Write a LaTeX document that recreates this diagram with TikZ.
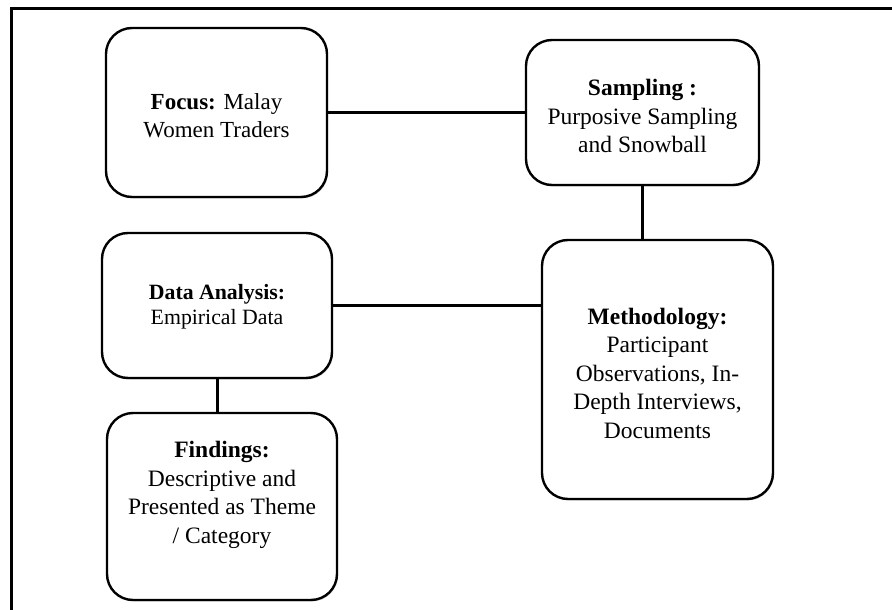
\documentclass[tikz,border=0pt]{standalone}
\usepackage{fontspec}
\setmainfont{Liberation Serif}
\usetikzlibrary{shadows}
\begin{document}
\begin{tikzpicture}[x=1pt,y=-1pt,
  box/.style={draw=black, line width=2.4pt, fill=white, rounded corners=26pt,
    drop shadow={shadow xshift=1pt, shadow yshift=-1.5pt, opacity=0.25, fill=black!60},
    inner sep=0pt},
  txt/.style={align=center, inner sep=0pt},
  link/.style={line width=3pt, black},
  frame/.style={line width=3pt, black}]
\useasboundingbox (0,0) rectangle (892,610);
\draw[frame] (892,9) -- (11,9) -- (11,610);

\node[box, minimum width=221pt, minimum height=169pt] (focus) at (216.5,112.5) {};
\node[box, minimum width=233pt, minimum height=145pt] (sampling) at (642.5,112.5) {};
\node[box, minimum width=230pt, minimum height=145pt] (data) at (217,305.5) {};
\node[box, minimum width=231pt, minimum height=259pt] (method) at (657.5,369.5) {};
\node[box, minimum width=230pt, minimum height=187pt] (findings) at (222,506.5) {};

\node[txt, font=\fontsize{23}{28}\selectfont] (focust) at (216.5,116)
  {\textbf{Focus:} Malay\\Women Traders};
\node[txt, font=\fontsize{23.5}{28.5}\selectfont] (samplingt) at (642.5,116)
  {\textbf{Sampling :}\\Purposive Sampling\\and Snowball};
\node[txt, font=\fontsize{21.8}{25.5}\selectfont] (datat) at (217,307)
  {\textbf{Data Analysis:}\\Empirical Data};
\node[txt, font=\fontsize{23.5}{28.5}\selectfont] (methodt) at (657.5,373)
  {\textbf{Methodology:}\\Participant\\Observations, In-\\Depth Interviews,\\Documents};
\node[txt, font=\fontsize{23.5}{28.5}\selectfont] (findingst) at (222,495)
  {\textbf{Findings:}\\Descriptive and\\Presented as Theme\\/ Category};

\draw[link] (focus.east) -- (sampling.west);
\draw[link] (sampling.south) -- (sampling.south |- method.north);
\draw[link] (data.east) -- (data.east -| method.west);
\draw[link] (data.south) -- (data.south |- findings.north);
\end{tikzpicture}
\end{document}
